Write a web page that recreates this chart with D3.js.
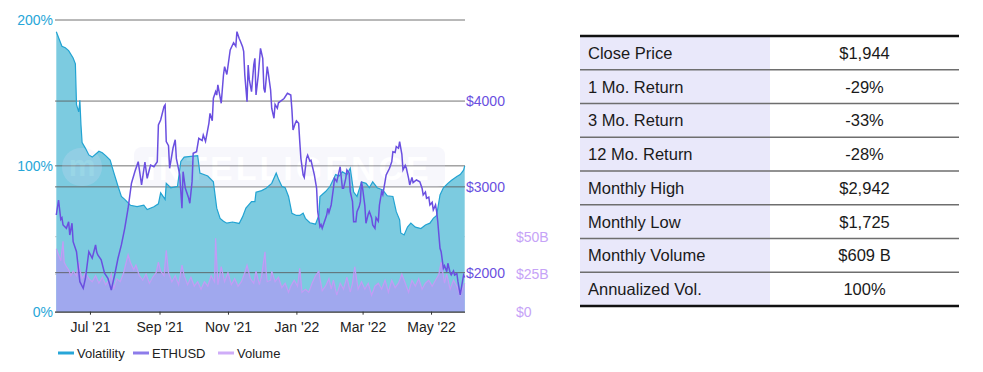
<!doctype html>
<html>
<head>
<meta charset="utf-8">
<title>ETH Volatility</title>
<script src="https://cdn.jsdelivr.net/npm/d3@7"></script>
<style>
  body { margin: 0; background: #fff; font-family: "Liberation Sans", Arial, Helvetica, sans-serif; }
  svg text { font-family: "Liberation Sans", Arial, Helvetica, sans-serif; }
</style>
</head>
<body>
<div id="chart"></div>
<script>
// ---- data ----
var volatility = [
  ["2021-06-01",192],["2021-06-06",182],["2021-06-09",181],["2021-06-12",179],["2021-06-16",174],["2021-06-18",170],
  ["2021-06-19",142],["2021-06-21",137],["2021-06-22",145],["2021-06-23",128],["2021-06-24",116],["2021-06-27",112],
  ["2021-06-30",107.5],["2021-07-03",106],["2021-07-06",108],["2021-07-09",110],["2021-07-12",109],["2021-07-15",107],
  ["2021-07-19",104],["2021-07-22",96],["2021-07-26",86],["2021-07-29",79],["2021-08-01",77],["2021-08-06",73],
  ["2021-08-12",72],["2021-08-18",73],["2021-08-21",70],["2021-08-27",72],["2021-08-31",74],["2021-09-02",81.5],
  ["2021-09-06",77],["2021-09-07",88],["2021-09-11",85],["2021-09-17",86],["2021-09-20",103],["2021-09-23",106],
  ["2021-10-05",107],["2021-10-07",95],["2021-10-14",93],["2021-10-19",89],["2021-10-22",71],["2021-10-25",64],
  ["2021-10-28",62],["2021-10-31",60.7],["2021-11-05",61.5],["2021-11-11",60.5],["2021-11-14",65],["2021-11-17",71],
  ["2021-11-22",75.5],["2021-11-25",75.5],["2021-11-26",82],["2021-12-01",83],["2021-12-05",84.7],["2021-12-10",88],
  ["2021-12-14",95],["2021-12-16",91],["2021-12-19",86],["2021-12-22",85],["2021-12-25",79],["2021-12-28",67.5],
  ["2022-01-01",66],["2022-01-04",66],["2022-01-07",67.5],["2022-01-09",64],["2022-01-13",61],["2022-01-18",60],
  ["2022-01-21",66],["2022-01-22",79],["2022-01-27",82.4],["2022-01-31",86],["2022-02-05",94],["2022-02-08",93],
  ["2022-02-11",96],["2022-02-15",94],["2022-02-18",98.4],["2022-02-21",82],["2022-02-24",79],["2022-02-28",89],
  ["2022-03-04",88],["2022-03-07",85],["2022-03-10",89],["2022-03-14",85],["2022-03-19",83.5],["2022-03-23",79.5],
  ["2022-03-28",79],["2022-03-31",68.6],["2022-04-03",63],["2022-04-04",54],["2022-04-07",52.6],["2022-04-10",58],
  ["2022-04-13",60.7],["2022-04-17",58],["2022-04-22",57],["2022-04-26",59.5],["2022-04-30",60.7],["2022-05-03",64],
  ["2022-05-06",66],["2022-05-09",80],["2022-05-12",85],["2022-05-16",88],["2022-05-19",90],["2022-05-24",92.7],
  ["2022-05-27",94],["2022-05-30",97],["2022-05-31",100]
];

var ethusd = [
  ["2021-06-01",2672],["2021-06-03",2847],["2021-06-05",2620],["2021-06-06",2640],["2021-06-07",2556],["2021-06-10",2517],
  ["2021-06-12",2594],["2021-06-13",2439],["2021-06-15",2576],["2021-06-16",2361],["2021-06-19",2245],["2021-06-21",2012],
  ["2021-06-22",1895],["2021-06-25",1818],["2021-06-27",1935],["2021-06-30",2245],["2021-07-03",2168],["2021-07-06",2323],
  ["2021-07-07",2240],["2021-07-08",2206],["2021-07-11",2150],["2021-07-14",1993],["2021-07-17",1935],["2021-07-20",1798],
  ["2021-07-23",1973],["2021-07-26",2168],["2021-07-29",2323],["2021-08-01",2517],["2021-08-04",2751],["2021-08-07",3042],
  ["2021-08-10",3177],["2021-08-13",3294],["2021-08-16",3022],["2021-08-19",3290],["2021-08-21",3100],["2021-08-24",3255],
  ["2021-08-27",3235],["2021-08-30",3294],["2021-08-31",3721],["2021-09-02",3780],["2021-09-05",3935],["2021-09-06",3955],
  ["2021-09-07",3527],["2021-09-09",3480],["2021-09-10",3217],["2021-09-13",3450],["2021-09-15",3550],["2021-09-16",3333],
  ["2021-09-19",3139],["2021-09-21",2751],["2021-09-22",3177],["2021-09-24",2984],["2021-09-27",2867],["2021-09-28",2809],
  ["2021-09-30",3061],["2021-10-01",3392],["2021-10-04",3410],["2021-10-06",3566],["2021-10-09",3540],["2021-10-10",3605],
  ["2021-10-12",3530],["2021-10-15",3741],["2021-10-16",3857],["2021-10-18",3770],["2021-10-19",4033],["2021-10-21",4110],
  ["2021-10-22",4070],["2021-10-23",4188],["2021-10-26",3974],["2021-10-28",4304],["2021-10-29",4401],["2021-10-31",4310],
  ["2021-11-03",4596],["2021-11-06",4680],["2021-11-08",4640],["2021-11-09",4809],["2021-11-11",4730],["2021-11-12",4700],
  ["2021-11-14",4634],["2021-11-15",4580],["2021-11-16",4304],["2021-11-18",3993],["2021-11-19",4421],["2021-11-20",4250],
  ["2021-11-22",4110],["2021-11-24",4421],["2021-11-25",4499],["2021-11-26",4071],["2021-11-28",4300],["2021-11-30",4615],
  ["2021-12-02",4499],["2021-12-03",4149],["2021-12-04",4100],["2021-12-06",4401],["2021-12-07",4320],["2021-12-09",4129],
  ["2021-12-10",3916],["2021-12-12",3800],["2021-12-13",3960],["2021-12-15",3916],["2021-12-16",3980],["2021-12-21",4030],
  ["2021-12-24",4091],["2021-12-27",4070],["2021-12-28",3900],["2021-12-29",3663],["2021-12-31",3740],["2022-01-01",3770],
  ["2022-01-03",3740],["2022-01-04",3527],["2022-01-05",3333],["2022-01-07",3139],["2022-01-08",3110],["2022-01-10",3333],
  ["2022-01-11",3370],["2022-01-13",3300],["2022-01-14",3310],["2022-01-17",3139],["2022-01-19",2984],["2022-01-20",2711],
  ["2022-01-22",2536],["2022-01-23",2560],["2022-01-24",2517],["2022-01-28",2672],["2022-01-29",2750],["2022-01-30",2700],
  ["2022-02-01",2789],["2022-02-03",2984],["2022-02-04",3100],["2022-02-06",3060],["2022-02-08",3177],["2022-02-09",3235],
  ["2022-02-11",2984],["2022-02-12",2984],["2022-02-14",3100],["2022-02-15",3197],["2022-02-17",3160],["2022-02-18",2944],
  ["2022-02-20",2828],["2022-02-21",2594],["2022-02-23",2594],["2022-02-24",2711],["2022-02-26",2770],["2022-02-27",2828],
  ["2022-02-28",3061],["2022-03-01",2984],["2022-03-03",2780],["2022-03-04",2576],["2022-03-06",2680],["2022-03-07",2711],
  ["2022-03-09",2640],["2022-03-10",2556],["2022-03-12",2517],["2022-03-13",2640],["2022-03-15",2600],["2022-03-16",2789],
  ["2022-03-18",2944],["2022-03-19",2910],["2022-03-21",3061],["2022-03-22",3139],["2022-03-25",3217],["2022-03-27",3294],
  ["2022-03-28",3410],["2022-03-30",3400],["2022-03-31",3469],["2022-04-02",3450],["2022-04-03",3527],["2022-04-05",3380],
  ["2022-04-06",3197],["2022-04-08",3250],["2022-04-09",3217],["2022-04-11",3100],["2022-04-12",3022],["2022-04-14",3110],
  ["2022-04-15",3050],["2022-04-18",3080],["2022-04-21",3060],["2022-04-23",2984],["2022-04-24",2906],["2022-04-26",2940],
  ["2022-04-27",2867],["2022-04-29",2880],["2022-04-30",2789],["2022-05-02",2820],["2022-05-03",2731],["2022-05-05",2790],
  ["2022-05-06",2711],["2022-05-07",2594],["2022-05-09",2284],["2022-05-10",2245],["2022-05-12",2051],["2022-05-13",2080],
  ["2022-05-15",2012],["2022-05-16",2110],["2022-05-18",2000],["2022-05-19",1973],["2022-05-21",2020],["2022-05-22",1973],
  ["2022-05-24",1990],["2022-05-25",1895],["2022-05-27",1740],["2022-05-28",1820],["2022-05-30",1973],["2022-05-31",1944]
];

// volume in $B
var volume = [
  ["2021-06-01",42],["2021-06-03",38],["2021-06-05",34],["2021-06-07",47],["2021-06-08",33],["2021-06-10",30],
  ["2021-06-12",28],["2021-06-14",24],["2021-06-16",27],["2021-06-19",24],["2021-06-21",33],["2021-06-22",28],
  ["2021-06-24",22],["2021-06-27",26],["2021-06-30",22],["2021-07-03",20],["2021-07-06",24],["2021-07-09",19],
  ["2021-07-12",23],["2021-07-15",18],["2021-07-18",21],["2021-07-20",25],["2021-07-22",15],["2021-07-25",22],
  ["2021-07-28",20],["2021-07-31",26],["2021-08-04",38],["2021-08-06",33],["2021-08-09",28],["2021-08-11",31],
  ["2021-08-14",24],["2021-08-17",21],["2021-08-20",25],["2021-08-23",19],["2021-08-26",23],["2021-08-29",26],
  ["2021-08-31",33],["2021-09-02",27],["2021-09-05",24],["2021-09-07",41],["2021-09-09",26],["2021-09-12",20],
  ["2021-09-15",24],["2021-09-18",18],["2021-09-21",31],["2021-09-23",24],["2021-09-26",18],["2021-09-29",23],
  ["2021-10-02",17],["2021-10-05",20],["2021-10-08",15],["2021-10-11",20],["2021-10-14",17],["2021-10-17",24],
  ["2021-10-20",20],["2021-10-21",49],["2021-10-23",18],["2021-10-26",30],["2021-10-29",20],["2021-11-01",26],
  ["2021-11-04",18],["2021-11-07",22],["2021-11-10",17],["2021-11-13",20],["2021-11-16",26],["2021-11-18",31],
  ["2021-11-21",22],["2021-11-24",19],["2021-11-26",27],["2021-11-29",18],["2021-12-01",24],["2021-12-04",40],
  ["2021-12-05",27],["2021-12-06",20],["2021-12-09",21],["2021-12-10",27],["2021-12-13",20],["2021-12-16",23],
  ["2021-12-19",16],["2021-12-22",19],["2021-12-25",13],["2021-12-27",17],["2021-12-30",21],["2022-01-02",17],
  ["2022-01-04",29],["2022-01-06",13],["2022-01-09",15],["2022-01-12",13],["2022-01-15",19],["2022-01-18",24],
  ["2022-01-21",27],["2022-01-22",22],["2022-01-24",14],["2022-01-27",17],["2022-01-30",22],["2022-02-01",15],
  ["2022-02-03",21],["2022-02-06",11],["2022-02-09",19],["2022-02-12",15],["2022-02-15",23],["2022-02-18",13],
  ["2022-02-20",19],["2022-02-22",30],["2022-02-25",15],["2022-02-28",20],["2022-03-03",15],["2022-03-06",19],
  ["2022-03-09",11],["2022-03-12",17],["2022-03-15",19],["2022-03-18",15],["2022-03-21",21],["2022-03-24",13],
  ["2022-03-27",21],["2022-03-30",16],["2022-04-02",19],["2022-04-05",25],["2022-04-08",19],["2022-04-11",13],
  ["2022-04-14",21],["2022-04-17",17],["2022-04-20",22],["2022-04-23",15],["2022-04-26",19],["2022-04-29",21],
  ["2022-05-02",17],["2022-05-05",21],["2022-05-08",25],["2022-05-09",29],["2022-05-10",33],["2022-05-13",19],
  ["2022-05-15",25],["2022-05-18",15],["2022-05-21",21],["2022-05-24",17],["2022-05-27",11],["2022-05-31",19]
];

var xTicks = ["2021-07-01","2021-09-01","2021-11-01","2022-01-01","2022-03-01","2022-05-01"];
var volTicks = [0, 100, 200];
var priceTicks = [2000, 3000, 4000];
var volumeTicks = [0, 25, 50];
var legendNames = ["Volatility", "ETHUSD", "Volume"];

var tableLabels = ["Close Price","1 Mo. Return","3 Mo. Return","12 Mo. Return","Monthly High","Monthly Low","Monthly Volume","Annualized Vol."];
var tableValues = ["$1,944","-29%","-33%","-28%","$2,942","$1,725","$609 B","100%"];

// ---- setup ----
var W = 983, H = 372;
var svg = d3.select("#chart").append("svg").attr("width", W).attr("height", H);

var parse = d3.timeParse("%Y-%m-%d");
var plotL = 55, plotR = 465, plotT = 20, plotB = 311.7;

var x = d3.scaleTime()
    .domain([parse("2021-06-01"), parse("2022-05-31")])
    .range([56.3, 464.7]);
var yVol = d3.scaleLinear().domain([0, 200]).range([plotB, plotT]);
var yPrice = d3.scaleLinear().domain([1545, 4945]).range([plotB, plotT]);
var yVolume = d3.scaleLinear().domain([0, 194.5]).range([plotB, plotT]);

var cVol = "#22a3d2", cVolFill = "#7ccbe0";
var cEth = "#6a4fe0";
var cVolume = "#c39bf5", cVolumeFill = "#a0a8ee";

// light volume gridlines (under fills)
svg.selectAll(".vgrid").data(volumeTicks.slice(1)).enter().append("line")
    .attr("x1", plotL).attr("x2", plotR)
    .attr("y1", function(d) { return yVolume(d); })
    .attr("y2", function(d) { return yVolume(d); })
    .attr("stroke", "#c8c8c8").attr("stroke-width", 1);

// volatility area
var volArea = d3.area()
    .x(function(d) { return x(parse(d[0])); })
    .y0(plotB)
    .y1(function(d) { return yVol(d[1]); });
svg.append("path").datum(volatility)
    .attr("d", volArea)
    .attr("fill", cVolFill);

// volume area
var volumeArea = d3.area()
    .x(function(d) { return x(parse(d[0])); })
    .y0(plotB)
    .y1(function(d) { return yVolume(d[1]); });
svg.append("path").datum(volume)
    .attr("d", volumeArea)
    .attr("fill", cVolumeFill);

// gridlines (dark)
var darkGrid = [yVol(200), yVol(100), yPrice(4000), yPrice(3000), yPrice(2000)];
svg.selectAll(".grid").data(darkGrid).enter().append("line")
    .attr("x1", plotL).attr("x2", plotR)
    .attr("y1", function(d) { return d; })
    .attr("y2", function(d) { return d; })
    .attr("stroke", "#5a5a5a").attr("stroke-opacity", 0.85).attr("stroke-width", 1);

// watermark
var wm = svg.append("g").attr("opacity", 0.22);
wm.append("rect").attr("x", 62).attr("y", 148).attr("width", 40).attr("height", 38).attr("rx", 19).attr("fill", "#dcdcf6");
wm.append("text").attr("x", 82).attr("y", 176).attr("text-anchor", "middle")
    .attr("font-size", 30).attr("font-weight", "bold").attr("fill", "#ffffff").text("m");
wm.append("rect").attr("x", 134).attr("y", 147).attr("width", 311).attr("height", 40).attr("rx", 8).attr("fill", "#dcdcf6");
wm.append("text").attr("x", 289).attr("y", 180).attr("text-anchor", "middle")
    .attr("font-size", 34).attr("font-weight", "bold").attr("letter-spacing", 3).attr("fill", "#ffffff").text("INTELLIGENCE");

// lines
var volLine = d3.line()
    .x(function(d) { return x(parse(d[0])); })
    .y(function(d) { return yVol(d[1]); });
svg.append("path").datum(volatility)
    .attr("d", volLine).attr("fill", "none").attr("stroke", cVol).attr("stroke-width", 1.2);

var volumeLine = d3.line()
    .x(function(d) { return x(parse(d[0])); })
    .y(function(d) { return yVolume(d[1]); });
svg.append("path").datum(volume)
    .attr("d", volumeLine).attr("fill", "none").attr("stroke", cVolume).attr("stroke-width", 1.2);

var priceLine = d3.line()
    .x(function(d) { return x(parse(d[0])); })
    .y(function(d) { return yPrice(d[1]); });
svg.append("path").datum(ethusd)
    .attr("d", priceLine).attr("fill", "none").attr("stroke", cEth).attr("stroke-width", 1.5);

// x axis
var xAxis = svg.append("g")
    .attr("transform", "translate(0," + plotB + ")")
    .call(d3.axisBottom(x)
        .tickValues(xTicks.map(parse))
        .tickSize(3)
        .tickFormat(d3.timeFormat("%b '%y")));
xAxis.select(".domain").attr("d", "M" + plotL + ",0.5H" + plotR).attr("stroke", "#333").attr("stroke-width", 1.2);
xAxis.selectAll(".tick line").attr("stroke", "#333");
xAxis.selectAll(".tick text")
    .attr("font-size", 14).attr("fill", "#222").attr("dy", "1.05em");

// left axis labels (volatility)
svg.selectAll(".vl").data(volTicks).enter().append("text")
    .attr("x", 53).attr("y", function(d) { return yVol(d) + 5; })
    .attr("text-anchor", "end").attr("font-size", 14).attr("fill", "#27a6d8")
    .text(function(d) { return d + "%"; });

// right price labels
svg.selectAll(".pl").data(priceTicks).enter().append("text")
    .attr("x", 466).attr("y", function(d) { return yPrice(d) + 5; })
    .attr("font-size", 14).attr("fill", cEth)
    .text(function(d) { return "$" + d; });

// right volume labels
svg.selectAll(".vol").data(volumeTicks).enter().append("text")
    .attr("x", 516).attr("y", function(d) { return yVolume(d) + 5; })
    .attr("font-size", 14).attr("fill", "#c6a3f7")
    .text(function(d) { return d === 0 ? "$0" : "$" + d + "B"; });

// legend
var legColors = ["#27a6d8", "#8d7cea", "#cfadf8"];
var legX = [58, 133, 218];
var leg = svg.selectAll(".leg").data(legendNames).enter().append("g")
    .attr("transform", function(d, i) { return "translate(" + legX[i] + ",353)"; });
leg.append("line").attr("x1", 0).attr("x2", 16).attr("y1", 0).attr("y2", 0)
    .attr("stroke", function(d, i) { return legColors[i]; }).attr("stroke-width", 3);
leg.append("text").attr("x", 19).attr("y", 4.5)
    .attr("font-size", 13).attr("fill", "#222")
    .text(function(d) { return d; });

// ---- table ----
var tL = 580, tR = 959, tMid = 770, tTop = 36, rowH = 33.75;
var tbl = svg.append("g");
tbl.append("rect").attr("x", tL).attr("y", tTop).attr("width", tMid - tL)
    .attr("height", rowH * tableLabels.length).attr("fill", "#e9e8fa");

var rows = tbl.selectAll(".row").data(tableLabels).enter().append("g")
    .attr("transform", function(d, i) { return "translate(0," + (tTop + i * rowH) + ")"; });
rows.append("text").attr("x", 588).attr("y", rowH / 2 + 6)
    .attr("font-size", 16.5).attr("fill", "#1a1a1a")
    .text(function(d) { return d; });
rows.append("text").attr("x", (tMid + tR) / 2).attr("y", rowH / 2 + 6)
    .attr("text-anchor", "middle").attr("font-size", 16.5).attr("fill", "#1a1a1a")
    .text(function(d, i) { return tableValues[i]; });

// inner row lines
tbl.selectAll(".rl").data(d3.range(1, tableLabels.length)).enter().append("line")
    .attr("x1", tL).attr("x2", tR)
    .attr("y1", function(i) { return tTop + i * rowH; })
    .attr("y2", function(i) { return tTop + i * rowH; })
    .attr("stroke", "#6e6e6e").attr("stroke-width", 1.3);
// top & bottom rules
[tTop, tTop + rowH * tableLabels.length].forEach(function(yy) {
  tbl.append("line").attr("x1", tL).attr("x2", tR).attr("y1", yy).attr("y2", yy)
      .attr("stroke", "#111").attr("stroke-width", 2.5);
});
</script>
</body>
</html>
